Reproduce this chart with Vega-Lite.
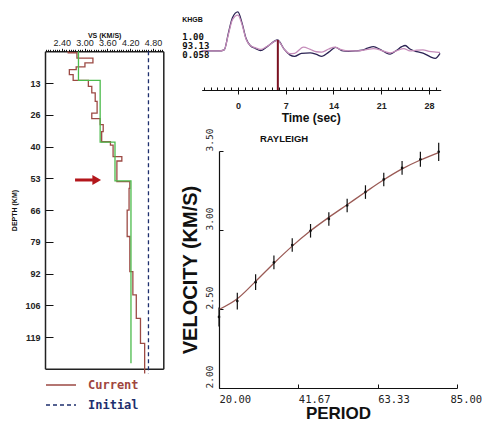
{
  "$schema": "https://vega.github.io/schema/vega-lite/v6.json",
  "width": 487,
  "height": 423,
  "autosize": {"type": "none"},
  "padding": 0,
  "background": "white",
  "config": {
    "view": {"stroke": null},
    "font": "Liberation Sans",
    "axis": {"labelColor": "#222", "titleColor": "#111", "domainColor": "#111", "tickColor": "#111", "grid": false, "labelFlush": false, "labelOverlap": false, "labelBound": false}
  },
  "datasets": {
    "profile": [
      {"model": "Current", "depth": 0, "vs": 2.57},
      {"model": "Current", "depth": 0.6, "vs": 2.80},
      {"model": "Current", "depth": 2.8, "vs": 3.22},
      {"model": "Current", "depth": 4.8, "vs": 3.01},
      {"model": "Current", "depth": 6.5, "vs": 2.78},
      {"model": "Current", "depth": 7.6, "vs": 2.60},
      {"model": "Current", "depth": 9.7, "vs": 2.70},
      {"model": "Current", "depth": 12.1, "vs": 3.10},
      {"model": "Current", "depth": 14.6, "vs": 3.19},
      {"model": "Current", "depth": 17.3, "vs": 3.28},
      {"model": "Current", "depth": 20.8, "vs": 3.33},
      {"model": "Current", "depth": 25.7, "vs": 3.19},
      {"model": "Current", "depth": 28.0, "vs": 3.41},
      {"model": "Current", "depth": 30.5, "vs": 3.49},
      {"model": "Current", "depth": 33.4, "vs": 3.45},
      {"model": "Current", "depth": 37.6, "vs": 3.68},
      {"model": "Current", "depth": 39.0, "vs": 3.75},
      {"model": "Current", "depth": 43.8, "vs": 3.98},
      {"model": "Current", "depth": 45.6, "vs": 3.85},
      {"model": "Current", "depth": 54.2, "vs": 4.19},
      {"model": "Current", "depth": 57.0, "vs": 4.17},
      {"model": "Current", "depth": 66.0, "vs": 4.12},
      {"model": "Current", "depth": 77.0, "vs": 4.19},
      {"model": "Current", "depth": 91.6, "vs": 4.27},
      {"model": "Current", "depth": 101.3, "vs": 4.36},
      {"model": "Current", "depth": 111.0, "vs": 4.47},
      {"model": "Current", "depth": 121.4, "vs": 4.58},
      {"model": "Current", "depth": 134.0, "vs": 4.58},
      {"model": "Initial", "depth": 0, "vs": 4.68},
      {"model": "Initial", "depth": 134.0, "vs": 4.68}
    ],
    "truemodel": [
      {"depth": 0, "vs": 2.84},
      {"depth": 12.1, "vs": 3.41},
      {"depth": 37.8, "vs": 3.80},
      {"depth": 53.9, "vs": 4.22},
      {"depth": 129.7, "vs": 4.22}
    ],
    "arrow": [{"depth": 53.5, "from": 2.75, "to": 3.22, "head": 3.32}],
    "wave": [
      {"trace": "obs", "t": -5.3, "amp": 0}, {"trace": "obs", "t": -2.8, "amp": 0}, {"trace": "obs", "t": -2.0, "amp": 0.03},
      {"trace": "obs", "t": -1.4, "amp": 0.45}, {"trace": "obs", "t": -0.8, "amp": 0.85}, {"trace": "obs", "t": 0, "amp": 1.0},
      {"trace": "obs", "t": 0.6, "amp": 0.72}, {"trace": "obs", "t": 1.2, "amp": 0.32}, {"trace": "obs", "t": 1.8, "amp": 0.14},
      {"trace": "obs", "t": 2.6, "amp": 0.06}, {"trace": "obs", "t": 3.3, "amp": 0.01}, {"trace": "obs", "t": 4.3, "amp": 0.11},
      {"trace": "obs", "t": 5.8, "amp": 0.28}, {"trace": "obs", "t": 6.8, "amp": 0.04}, {"trace": "obs", "t": 7.6, "amp": -0.1},
      {"trace": "obs", "t": 8.3, "amp": -0.14}, {"trace": "obs", "t": 9.3, "amp": -0.06}, {"trace": "obs", "t": 10.6, "amp": -0.05},
      {"trace": "obs", "t": 11.5, "amp": -0.09}, {"trace": "obs", "t": 12.3, "amp": -0.14}, {"trace": "obs", "t": 13.3, "amp": -0.03},
      {"trace": "obs", "t": 14.3, "amp": 0.09}, {"trace": "obs", "t": 15.2, "amp": 0.01}, {"trace": "obs", "t": 16.2, "amp": -0.01},
      {"trace": "obs", "t": 17.2, "amp": 0.0}, {"trace": "obs", "t": 18.2, "amp": 0.02}, {"trace": "obs", "t": 19.0, "amp": 0.07},
      {"trace": "obs", "t": 19.85, "amp": 0.11}, {"trace": "obs", "t": 20.8, "amp": 0.04}, {"trace": "obs", "t": 21.6, "amp": -0.04},
      {"trace": "obs", "t": 22.3, "amp": -0.08}, {"trace": "obs", "t": 23.2, "amp": 0.01}, {"trace": "obs", "t": 24.0, "amp": 0.11},
      {"trace": "obs", "t": 24.5, "amp": 0.14}, {"trace": "obs", "t": 25.2, "amp": 0.05}, {"trace": "obs", "t": 26.2, "amp": -0.02},
      {"trace": "obs", "t": 27.2, "amp": -0.06}, {"trace": "obs", "t": 28.2, "amp": -0.15}, {"trace": "obs", "t": 28.9, "amp": -0.19},
      {"trace": "obs", "t": 29.6, "amp": -0.06},
      {"trace": "syn", "t": -5.3, "amp": 0}, {"trace": "syn", "t": -2.8, "amp": 0}, {"trace": "syn", "t": -2.0, "amp": 0.03},
      {"trace": "syn", "t": -1.4, "amp": 0.42}, {"trace": "syn", "t": -0.8, "amp": 0.8}, {"trace": "syn", "t": 0, "amp": 0.92},
      {"trace": "syn", "t": 0.6, "amp": 0.68}, {"trace": "syn", "t": 1.2, "amp": 0.3}, {"trace": "syn", "t": 1.8, "amp": 0.14},
      {"trace": "syn", "t": 2.6, "amp": 0.08}, {"trace": "syn", "t": 3.3, "amp": 0.04}, {"trace": "syn", "t": 4.3, "amp": 0.12},
      {"trace": "syn", "t": 5.8, "amp": 0.27}, {"trace": "syn", "t": 6.8, "amp": 0.04}, {"trace": "syn", "t": 7.6, "amp": -0.07},
      {"trace": "syn", "t": 8.3, "amp": -0.06}, {"trace": "syn", "t": 9.6, "amp": 0.1}, {"trace": "syn", "t": 10.6, "amp": 0.04},
      {"trace": "syn", "t": 11.5, "amp": -0.02}, {"trace": "syn", "t": 12.3, "amp": -0.03}, {"trace": "syn", "t": 13.3, "amp": 0.05},
      {"trace": "syn", "t": 14.2, "amp": 0.1}, {"trace": "syn", "t": 15.0, "amp": 0.04}, {"trace": "syn", "t": 16.0, "amp": 0.0},
      {"trace": "syn", "t": 17.0, "amp": 0.0}, {"trace": "syn", "t": 18.0, "amp": 0.01}, {"trace": "syn", "t": 19.0, "amp": 0.04},
      {"trace": "syn", "t": 19.85, "amp": 0.06}, {"trace": "syn", "t": 20.8, "amp": 0.03}, {"trace": "syn", "t": 21.6, "amp": -0.02},
      {"trace": "syn", "t": 22.3, "amp": -0.05}, {"trace": "syn", "t": 23.2, "amp": 0.0}, {"trace": "syn", "t": 24.3, "amp": 0.06},
      {"trace": "syn", "t": 25.2, "amp": 0.0}, {"trace": "syn", "t": 26.2, "amp": 0.02}, {"trace": "syn", "t": 27.1, "amp": 0.03},
      {"trace": "syn", "t": 28.0, "amp": -0.01}, {"trace": "syn", "t": 29.0, "amp": -0.03}, {"trace": "syn", "t": 29.6, "amp": -0.04}
    ],
    "pick": [{"t": 5.85, "amp": 0.28, "base": -1.0}],
    "disp": [
      {"period": 20, "model_v": 2.497, "obs": 2.45, "err": 0.06},
      {"period": 25, "model_v": 2.565, "obs": 2.55, "err": 0.053},
      {"period": 30, "model_v": 2.675, "obs": 2.67, "err": 0.05},
      {"period": 35, "model_v": 2.79, "obs": 2.795, "err": 0.043},
      {"period": 40, "model_v": 2.898, "obs": 2.905, "err": 0.042},
      {"period": 45, "model_v": 2.995, "obs": 2.995, "err": 0.043},
      {"period": 50, "model_v": 3.08, "obs": 3.07, "err": 0.043},
      {"period": 55, "model_v": 3.16, "obs": 3.155, "err": 0.043},
      {"period": 60, "model_v": 3.24, "obs": 3.24, "err": 0.043},
      {"period": 65, "model_v": 3.318, "obs": 3.32, "err": 0.043},
      {"period": 70, "model_v": 3.387, "obs": 3.393, "err": 0.044},
      {"period": 75, "model_v": 3.443, "obs": 3.448, "err": 0.047},
      {"period": 80, "model_v": 3.49, "obs": 3.495, "err": 0.058}
    ]
  },
  "resolve": {
    "scale": {"x": "independent", "y": "independent", "color": "independent", "strokeDash": "independent"},
    "axis": {"x": "independent", "y": "independent"}
  },
  "layer": [
    {
      "resolve": {"axis": {"x": "independent", "y": "independent"}},
      "layer": [
        {
          "data": {"name": "profile"},
          "mark": {"type": "line", "interpolate": "step-before", "strokeWidth": 1.3},
          "encoding": {
            "x": {"field": "vs", "type": "quantitative",
              "scale": {"domain": [1.96, 5.07], "range": [45, 163.3], "nice": false, "zero": false},
              "axis": {"orient": "top", "offset": -51.3, "values": [2.4, 3.0, 3.6, 4.2, 4.8], "format": ".2f", "title": "VS (KM/S)", "titleFontSize": 7, "titleFontWeight": "bold", "titlePadding": 0, "labelFontSize": 9, "labelPadding": 1, "tickSize": 3, "domain": true, "domainWidth": 1.5, "domainColor": "#222"}},
            "y": {"field": "depth", "type": "quantitative",
              "scale": {"domain": [0, 132], "range": [51.3, 368.8], "nice": false, "zero": false},
              "axis": {"orient": "left", "offset": -45, "values": [13.2, 26.4, 39.6, 52.8, 66, 79.2, 92.4, 105.6, 118.8], "labelExpr": "format(datum.value, '.0f')", "tickSize": -8, "labelPadding": 13, "labelFontSize": 9, "labelFontWeight": "bold", "title": "DEPTH (KM)", "titleFontSize": 7, "titleFontWeight": "bold", "titlePadding": 7, "domain": true, "domainWidth": 1.5, "domainColor": "#222"}},
            "color": {"field": "model", "type": "nominal",
              "scale": {"domain": ["Current", "Initial"], "range": ["#9c4a44", "#1e2f6e"]},
              "legend": {"orient": "none", "legendX": 45, "legendY": 376, "direction": "vertical", "title": null, "padding": 0, "symbolType": "stroke", "symbolSize": 900, "symbolStrokeWidth": 1.5, "labelFont": "DejaVu Sans Mono", "labelFontSize": 12, "labelFontWeight": "bold", "labelOffset": 11, "rowPadding": 2, "clipHeight": 18,
                "encode": {"labels": {"update": {"fill": {"signal": "datum.value === 'Current' ? '#a0463e' : '#1e2f6e'"}}}}}},
            "strokeDash": {"field": "model", "type": "nominal",
              "scale": {"domain": ["Current", "Initial"], "range": [[1, 0], [4, 3]]},
              "legend": {"orient": "none", "legendX": 45, "legendY": 376, "direction": "vertical", "title": null, "padding": 0, "symbolType": "stroke", "symbolSize": 900, "symbolStrokeWidth": 1.5, "labelFont": "DejaVu Sans Mono", "labelFontSize": 12, "labelFontWeight": "bold", "labelOffset": 11, "rowPadding": 2, "clipHeight": 18,
                "encode": {"labels": {"update": {"fill": {"signal": "datum.value === 'Current' ? '#a0463e' : '#1e2f6e'"}}}}}},
            "order": {"field": "depth", "type": "quantitative"}
          }
        },
        {
          "data": {"name": "truemodel"},
          "mark": {"type": "line", "interpolate": "step-before", "strokeWidth": 1.3, "color": "#4cbb4c"},
          "encoding": {
            "x": {"field": "vs", "type": "quantitative",
              "axis": {"orient": "top", "offset": -51.3, "values": [1.98, 2.04, 2.1, 2.16, 2.22, 2.28, 2.34, 2.4, 2.46, 2.52, 2.58, 2.64, 2.7, 2.76, 2.82, 2.88, 2.94, 3.0, 3.06, 3.12, 3.18, 3.24, 3.3, 3.36, 3.42, 3.48, 3.54, 3.6, 3.66, 3.72, 3.78, 3.84, 3.9, 3.96, 4.02, 4.08, 4.14, 4.2, 4.26, 4.32, 4.38, 4.44, 4.5, 4.56, 4.62, 4.68, 4.74, 4.8, 4.86, 4.92, 4.98, 5.04], "labels": false, "domain": false, "tickSize": 2, "title": null}},
            "y": {"field": "depth", "type": "quantitative",
              "axis": {"orient": "right", "offset": -323.7, "ticks": false, "labels": false, "title": null, "domain": true, "domainWidth": 1.5, "domainColor": "#222"}},
            "order": {"field": "depth", "type": "quantitative"}
          }
        },
        {
          "data": {"name": "arrow"},
          "mark": {"type": "rule", "color": "#b3161b", "strokeWidth": 3},
          "encoding": {
            "x": {"field": "from", "type": "quantitative",
              "axis": {"orient": "bottom", "offset": -54.2, "ticks": false, "labels": false, "title": null, "domain": true, "domainWidth": 1.5, "domainColor": "#222"}},
            "x2": {"field": "to"},
            "y": {"field": "depth", "type": "quantitative", "axis": null}
          }
        },
        {
          "data": {"name": "arrow"},
          "mark": {"type": "point", "shape": "triangle-right", "filled": true, "color": "#b3161b", "size": 100, "opacity": 1},
          "encoding": {
            "x": {"field": "head", "type": "quantitative", "axis": null},
            "y": {"field": "depth", "type": "quantitative", "axis": null}
          }
        }
      ]
    },
    {
      "resolve": {"axis": {"x": "independent", "y": "independent"}},
      "layer": [
        {
          "data": {"name": "wave"},
          "mark": {"type": "line", "interpolate": "monotone", "strokeWidth": 1.3},
          "encoding": {
            "x": {"field": "t", "type": "quantitative",
              "scale": {"domain": [-5.3, 29.7], "range": [201.7, 440.7], "nice": false, "zero": false},
              "axis": {"orient": "bottom", "offset": -333, "values": [0, 7, 14, 21, 28], "tickSize": 4, "labelPadding": 7, "labelFontSize": 9, "labelFontWeight": "bold", "title": "Time (sec)", "titleFontSize": 12, "titleFontWeight": "bold", "titlePadding": 2, "titleX": 310.7}},
            "y": {"field": "amp", "type": "quantitative", "scale": {"domain": [-1.0, 1.1], "range": [90, 8], "nice": false, "zero": false}, "axis": null},
            "color": {"field": "trace", "type": "nominal", "scale": {"domain": ["syn", "obs"], "range": ["#c58cba", "#2c2354"]}, "legend": null}
          }
        },
        {
          "data": {"name": "pick"},
          "mark": {"type": "rule", "color": "#7a1020", "strokeWidth": 2},
          "encoding": {
            "x": {"field": "t", "type": "quantitative",
              "axis": {"orient": "bottom", "offset": -333, "values": [-5, -4, -3, -2, -1, 0, 1, 2, 3, 4, 5, 6, 7, 8, 9, 10, 11, 12, 13, 14, 15, 16, 17, 18, 19, 20, 21, 22, 23, 24, 25, 26, 27, 28, 29], "tickSize": -3, "labels": false, "domain": false, "title": null}},
            "y": {"field": "base", "type": "quantitative", "axis": null},
            "y2": {"field": "amp"}
          }
        },
        {
          "data": {"values": [{}]},
          "mark": {"type": "text", "align": "left", "baseline": "middle", "fontSize": 7, "fontWeight": "bold", "color": "#111"},
          "encoding": {
            "x": {"datum": -8.15, "type": "quantitative", "axis": null},
            "y": {"datum": 0.79, "type": "quantitative", "axis": null},
            "text": {"value": "KHGB"}
          }
        },
        {
          "data": {"values": [{}]},
          "mark": {"type": "text", "align": "left", "baseline": "middle", "font": "DejaVu Sans Mono", "fontSize": 9, "fontWeight": "bold", "lineHeight": 8.7, "color": "#111"},
          "encoding": {
            "x": {"datum": -8.15, "type": "quantitative", "axis": null},
            "y": {"datum": 0.351, "type": "quantitative", "axis": null},
            "text": {"value": [" 1.00", "93.13", "0.058"]}
          }
        }
      ]
    },
    {
      "resolve": {"axis": {"x": "independent", "y": "independent"}},
      "layer": [
        {
          "data": {"name": "disp"},
          "mark": {"type": "line", "color": "#9a5a55", "strokeWidth": 1.3, "interpolate": "monotone"},
          "encoding": {
            "x": {"field": "period", "type": "quantitative",
              "scale": {"domain": [20, 85], "range": [219, 457], "nice": false, "zero": false},
              "axis": {"orient": "bottom", "offset": -35, "values": [20, 41.67, 63.33, 85], "format": ".2f", "labelAlign": "left", "labelOffset": {"condition": {"test": "datum.value > 80", "value": -7}, "value": 0}, "labelFont": "DejaVu Sans Mono", "labelFontSize": 10.5, "tickSize": -4, "labelPadding": 10, "title": "PERIOD", "titleFontSize": 17, "titleFontWeight": "bold", "titlePadding": 1, "domainWidth": 1.2}},
            "y": {"field": "model_v", "type": "quantitative",
              "scale": {"domain": [2.0, 3.5], "range": [388, 151], "nice": false, "zero": false},
              "axis": {"orient": "left", "offset": -219, "values": [2.0, 2.5, 3.0, 3.5], "format": ".2f", "labelAngle": 270, "labelAlign": "left", "labelBaseline": "middle", "labelFont": "DejaVu Sans Mono", "labelFontSize": 9.5, "tickSize": -4, "labelPadding": 13.5, "title": "VELOCITY (KM/S)", "titleFontSize": 20, "titleFontWeight": "bold", "titlePadding": 4, "domainWidth": 1.2}}
          }
        },
        {
          "data": {"name": "disp"},
          "mark": {"type": "errorbar", "color": "#111", "thickness": 1.2},
          "encoding": {
            "x": {"field": "period", "type": "quantitative", "axis": null},
            "y": {"field": "obs", "type": "quantitative", "axis": null},
            "yError": {"field": "err"}
          }
        },
        {
          "data": {"name": "disp"},
          "mark": {"type": "circle", "color": "#111", "size": 7, "opacity": 1},
          "encoding": {
            "x": {"field": "period", "type": "quantitative", "axis": null},
            "y": {"field": "obs", "type": "quantitative", "axis": null}
          }
        },
        {
          "data": {"values": [{}]},
          "mark": {"type": "text", "align": "left", "baseline": "middle", "fontSize": 9.5, "fontWeight": "bold", "color": "#111"},
          "encoding": {
            "x": {"datum": 31.2, "type": "quantitative", "axis": null},
            "y": {"datum": 3.576, "type": "quantitative", "axis": null},
            "text": {"value": "RAYLEIGH"}
          }
        }
      ]
    }
  ]
}
